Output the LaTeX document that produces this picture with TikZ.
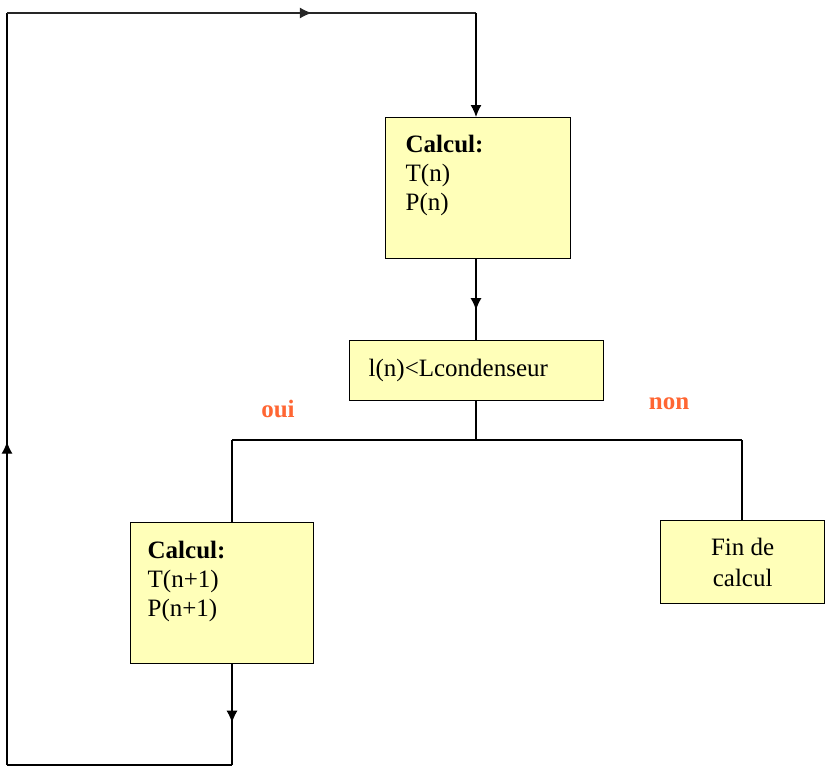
\documentclass[tikz,border=0pt]{standalone}
\usepackage{fontspec}
\setmainfont{Liberation Serif}
\usetikzlibrary{positioning,calc,arrows.meta,decorations.markings}
\definecolor{boxfill}{RGB}{255,255,185}
\definecolor{ouinon}{RGB}{255,102,51}
\tikzset{calcbox/.style={draw,fill=boxfill,line width=1.3pt,inner sep=0pt,anchor=north west}  }
\tikzset{flow/.style={draw,line width=1.3pt}  }
\tikzset{branch/.style={text=ouinon,font=\fontsize{25}{29}\selectfont\bfseries}  }
\tikzset{midarrow/.style={postaction={decorate},decoration={markings,mark=at position #1 with {\arrow{>}}}}  }
\tikzset{>={Latex[length=12pt,width=11pt]}}

\begin{document}
\begin{tikzpicture}[x=1pt,y=-1pt,every node/.style={font=\fontsize{25}{29}\selectfont}]
\useasboundingbox (0,0) rectangle (826,776);
\begin{scope}
    % boxes
    \node[calcbox,minimum width=185pt,minimum height=141pt,inner xsep=20pt,inner ysep=18pt] (calcn) at (385,117)
      {\parbox[c][105pt][t]{145pt}{\textbf{Calcul:}\\T(n)\\P(n)}};
    \node[calcbox,minimum width=254pt,minimum height=60pt,inner xsep=19pt,text width=216pt,align=left] (test) at (349,340)
      {l(n)<Lcondenseur};
    \node[calcbox,minimum width=183pt,minimum height=141pt,inner xsep=17pt,inner ysep=18pt] (calcnn) at (130,522)
      {\parbox[c][105pt][t]{149pt}{\textbf{Calcul:}\\T(n+1)\\P(n+1)}};
    \node[calcbox,minimum width=164pt,minimum height=83pt,align=center] (fin) at (660,520)
      {Fin de\\[2pt]calcul};

    \coordinate (top) at (476,13);
    \coordinate (tl) at (7,13);
    \coordinate (bl) at (7,765);
    \coordinate (br) at (232,765);
    \coordinate (split) at (476,440);
    \coordinate (yes) at (232,440);
    \coordinate (no) at (742,440);

    \node[branch] (oui) at (278,409) {oui};
    \node[branch] (non) at (669,404) {non};

    % main flow
    \draw[flow,midarrow=0.63] (calcn.south -| top) -- (test.north -| top);
    \draw[flow] (test.south -| split) -- (split)
          (yes) -- (no)
          (yes) -- (yes |- calcnn.north)
          (no) -- (no |- fin.north);

    % loop back
    \draw[flow,midarrow=0.58] (calcnn.south -| br) -- (br);
    \draw[flow] (br) -- (bl);
    \draw[flow,midarrow=0.43] (bl) -- (tl);
    \draw[flow,black!85,midarrow=0.65] (tl) -- (top);
    \draw[flow,->] (top) -- (top |- calcn.north);
\end{scope}
\end{tikzpicture}
\end{document}
